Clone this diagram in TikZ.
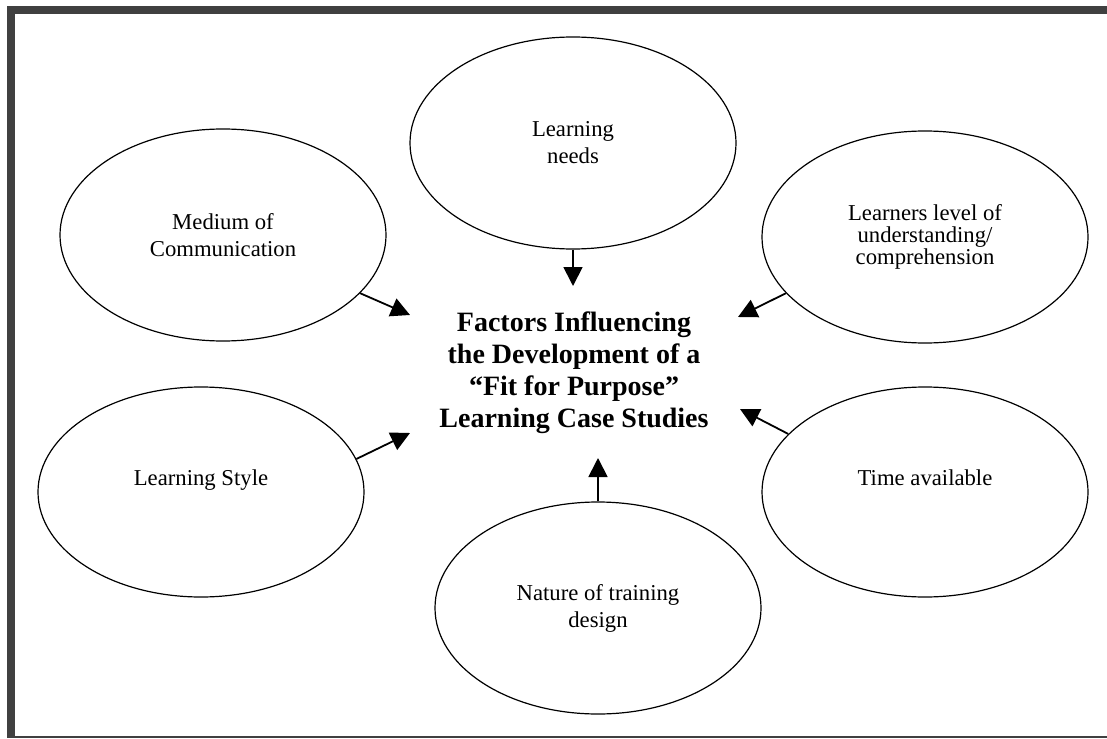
\documentclass[tikz,border=0pt]{standalone}
\usepackage{fontspec}
\setmainfont{Liberation Serif}
\usetikzlibrary{shapes.geometric,arrows.meta}

\tikzset{
  factor/.style={ellipse, draw, line width=1.2pt, minimum width=326pt,
    minimum height=212pt, inner sep=0pt, align=center,
    font=\fontsize{22.7}{27}\selectfont},
  lifted/.style={text depth=29pt},
  pull/.style={-{Triangle[length=19pt,width=19pt]}, line width=1.8pt},
  rim/.style={fill=black!75},
}

\begin{document}
\begin{tikzpicture}[x=1pt,y=-1pt]
  \useasboundingbox (0,0) rectangle (1107,738);
  % frame
  \fill[rim] (7,6) rectangle (1107,14);
  \fill[rim] (7,6) rectangle (15,738);
  \fill[rim] (7,736) rectangle (1107,738);

  % the six factors
  \node[factor] (needs)    at (573,143) {Learning\\needs};
  \node[factor] (medium)   at (223,235) {Medium of\\Communication};
  \node[factor, font=\fontsize{22.7}{22}\selectfont] (level) at (925,237)
    {Learners level of\\understanding/\\comprehension};
  \node[factor, lifted, minimum height=210pt] (style) at (201,492) {Learning Style};
  \node[factor, lifted, minimum height=210pt] (time)  at (925,492) {Time available};
  \node[factor] (nature)   at (598,608) {Nature of training\\design};

  \node[align=center, font=\fontsize{28}{32}\selectfont\bfseries] (core) at (574,373)
    {Factors Influencing\\the Development of a\\“Fit for Purpose”\\Learning Case Studies};

  \coordinate (needs-tip)  at (573,286);
  \coordinate (medium-tip) at (410,315);
  \coordinate (level-tip)  at (738,317);
  \coordinate (style-tip)  at (410,433);
  \coordinate (time-tip)   at (740,409);
  \coordinate (nature-tip) at (598,458);

  \path[pull]
  (needs.south)  edge (needs-tip)
  (medium.-23)   edge (medium-tip)
  (level.202)    edge (level-tip)
  (style.12)     edge (style-tip)
  (time.157)     edge (time-tip)
  (nature.north) edge (nature-tip);
\end{tikzpicture}
\end{document}
